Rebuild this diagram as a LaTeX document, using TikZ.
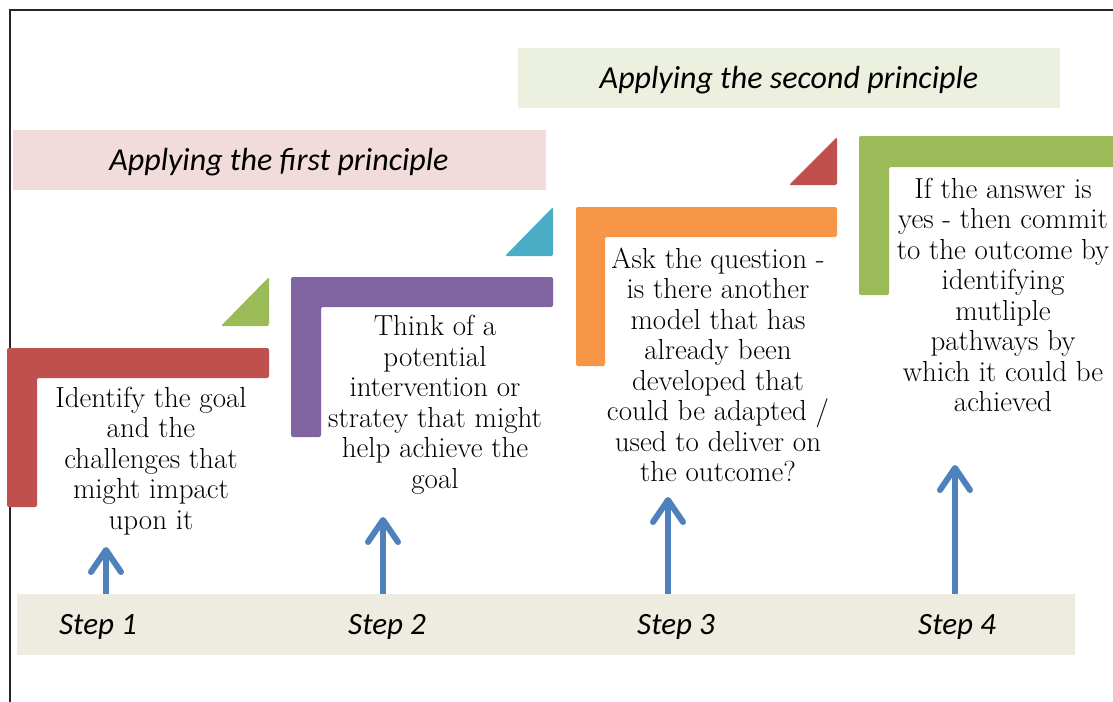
\documentclass[tikz,border=0pt]{standalone}
\usepackage{fontspec}
\newfontfamily\calibri{Carlito}
\usetikzlibrary{
  arrows.meta,
  positioning
}

\definecolor{stepred}{HTML}{C0504D}
\definecolor{stepgreen}{HTML}{9BBB59}
\definecolor{steppurple}{HTML}{8064A2}
\definecolor{stepcyan}{HTML}{4BACC6}
\definecolor{steporange}{HTML}{F79646}
\definecolor{arrowblue}{HTML}{4F81BD}
\definecolor{bannerpink}{HTML}{F2DCDB}
\definecolor{bannergreen}{HTML}{EBF1DE}
\definecolor{bandgray}{HTML}{EEECE1}

\begin{document}
\begin{tikzpicture}[
  x=1pt, y=-1pt,
  banner/.style={
    rectangle, inner sep=0pt,
    font=\calibri\itshape\fontsize{32}{38}\selectfont
  },
  steplabel/.style={
    inner sep=0pt, font=\calibri\itshape\fontsize{31}{37}\selectfont
  },
  stepbody/.style={
    align=center, inner sep=0pt,
    font=\rmfamily\fontsize{29}{30.5}\selectfont
  },
  corner/.style={rounded corners=2pt},
  uparrow/.style={
    arrowblue, line width=6pt,
    -{Straight Barb[length=22pt, width=30pt, round]}
  },
]

\clip (0,0) rectangle (1113,701);
\fill[white] (0,0) rectangle (1113,701);

% Outer frame
\draw[line width=1.2pt, black!85] (10,10) rectangle (1140,730);

% Principle banners
\node[banner, fill=bannerpink, minimum width=533pt, minimum height=60pt]
  (first) at (279.5,160) {};
\node[banner] at (279,162) {Applying the first principle};
\node[banner, fill=bannergreen, minimum width=542pt, minimum height=60pt]
  (second) at (789,78) {};
\node[banner] at (789,80) {Applying the second principle};

% L-shaped step brackets
\fill[stepred, corner] (7,348) -- (269,348) -- (269,378) -- (37,378)
  -- (37,507) -- (7,507) -- cycle;
\fill[steppurple, corner] (291,277) -- (553,277) -- (553,307) -- (321,307)
  -- (321,437) -- (291,437) -- cycle;
\fill[steporange, corner] (576,207) -- (837,207) -- (837,237) -- (605,237)
  -- (605,366) -- (576,366) -- cycle;
\fill[stepgreen, corner] (859,136) -- (1125,136) -- (1125,167) -- (889,167)
  -- (889,295) -- (859,295) -- cycle;

% Corner triangles
\fill[stepgreen, corner] (221,326) -- (269,277) -- (269,326) -- cycle;
\fill[stepcyan, corner] (505,256) -- (553,207) -- (553,256) -- cycle;
\fill[stepred, corner] (789,185) -- (837,137) -- (837,185) -- cycle;

% Step texts
\node[stepbody] (t1) at (151,461)
  {Identify the goal\\and the\\challenges that\\might impact\\upon it};
\node[stepbody] (t2) at (435,405)
  {Think of a\\potential\\intervention or\\stratey that might\\help achieve the\\goal};
\node[stepbody] (t3) at (718,365)
  {Ask the question -\\is there another\\model that has\\already been\\developed that\\could be adapted /\\used to deliver on\\the outcome?};
\node[stepbody] (t4) at (1003,295)
  {If the answer is\\yes - then commit\\to the outcome by\\identifying\\mutliple\\pathways by\\which it could be\\achieved};

% Step band
\node[fill=bandgray, minimum width=1058pt, minimum height=61pt, inner sep=0pt]
  (band) at (546,624.5) {};
\node[steplabel] (s1) at (98,627) {Step 1};
\node[steplabel] (s2) at (387,627) {Step 2};
\node[steplabel] (s3) at (676,627) {Step 3};
\node[steplabel] (s4) at (957,627) {Step 4};

% Arrows up to the steps
\coordinate (a1) at (106,547);
\coordinate (a2) at (383,517);
\coordinate (a3) at (668,497);
\coordinate (a4) at (955,465);
\foreach \i in {1,...,4}
  \draw[uparrow] (a\i |- band.north) -- (a\i);

\end{tikzpicture}
\end{document}
